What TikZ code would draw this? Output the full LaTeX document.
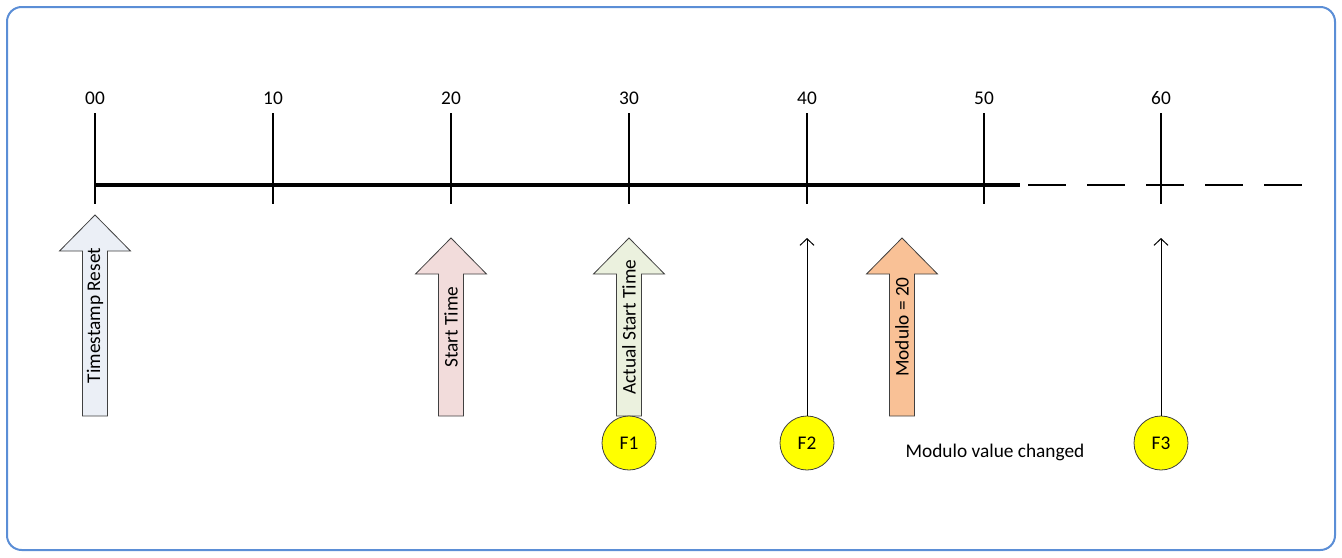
\documentclass[tikz,border=0pt]{standalone}
\usepackage{fontspec}
\setmainfont{Carlito}
\usetikzlibrary{
  arrows.meta,
  positioning,
  calc
}
\definecolor{tlFrame}{HTML}{5B8ED6}
\definecolor{tlReset}{HTML}{EBEFF6}
\definecolor{tlStart}{HTML}{F2DCDB}
\definecolor{tlActual}{HTML}{EBF1DE}
\definecolor{tlModulo}{HTML}{F9C196}
\definecolor{tlFlag}{HTML}{FFFF00}
\newcommand\tlfont{\fontsize{14.5pt}{17pt}\selectfont}
\tikzset{
  outerframe/.style={draw=tlFrame, line width=1.5pt, rounded corners=11pt},
  axismain/.style={line width=2.4pt, black},
  axisfuture/.style={line width=1.7pt, black, dash pattern=on 28.5pt off 15.75pt},
  tickline/.style={line width=1.8pt, black},
  ticklbl/.style={font=\tlfont, inner sep=0pt},
  blockarrow/.style={draw=black!75, line width=0.6pt},
  blocktext/.style={font=\tlfont, rotate=90, inner sep=0pt},
  flag/.style={circle, draw=black!75, fill=tlFlag, line width=0.6pt,
    minimum size=40.5pt, inner sep=0pt, font=\tlfont},
  flagarrow/.style={-{Straight Barb[length=5pt, width=10.5pt]}, line width=0.75pt},
  note/.style={font=\tlfont, inner sep=0pt}
}
\begin{document}
\begin{tikzpicture}[x=0.75pt, y=-0.75pt]
  \useasboundingbox (0,0) rectangle (1342,557);
  \draw[outerframe] (7,7) rectangle (1335,550);

  % time axis
  \draw[axismain] (95,185) -- (1020,185);
  \draw[axisfuture] (1028,185) -- (1302,185);
  \foreach \x/\t in {95/00, 273/10, 451/20, 629/30, 807/40, 984/50, 1161/60}{
    \draw[tickline] (\x,113) -- (\x,204);
    \node[ticklbl] (lbl\t) at (\x,98) {\t};
  }

  % events
  \foreach \x/\top/\fillc/\name/\txt in {
    95/215/tlReset/reset/{Timestamp Reset},
    451/238/tlStart/start/{Start Time},
    629/238/tlActual/actual/{Actual Start Time},
    902/238/tlModulo/modulo/{Modulo = 20}}{
    \draw[blockarrow, fill=\fillc] (\x-12.5,416) -- (\x-12.5,\top+36) -- (\x-35.5,\top+36)
      -- (\x,\top) -- (\x+35.5,\top+36) -- (\x+12.5,\top+36) -- (\x+12.5,416) -- cycle;
    \node[blocktext] (\name) at (\x,{(\top+416)/2}) {\txt};
  }

  % frames
  \node[flag] (f1) at (629,443) {F1};
  \node[flag] (f2) at (807,443) {F2};
  \node[flag] (f3) at (1161,443) {F3};
  \coordinate (f2tip) at (807,238);
  \coordinate (f3tip) at (1161,238);
  \draw[flagarrow] (f2) -- (f2tip);
  \draw[flagarrow] (f3) -- (f3tip);
  \node[note] (modnote) at (995,452) {Modulo value changed};
\end{tikzpicture}
\end{document}
